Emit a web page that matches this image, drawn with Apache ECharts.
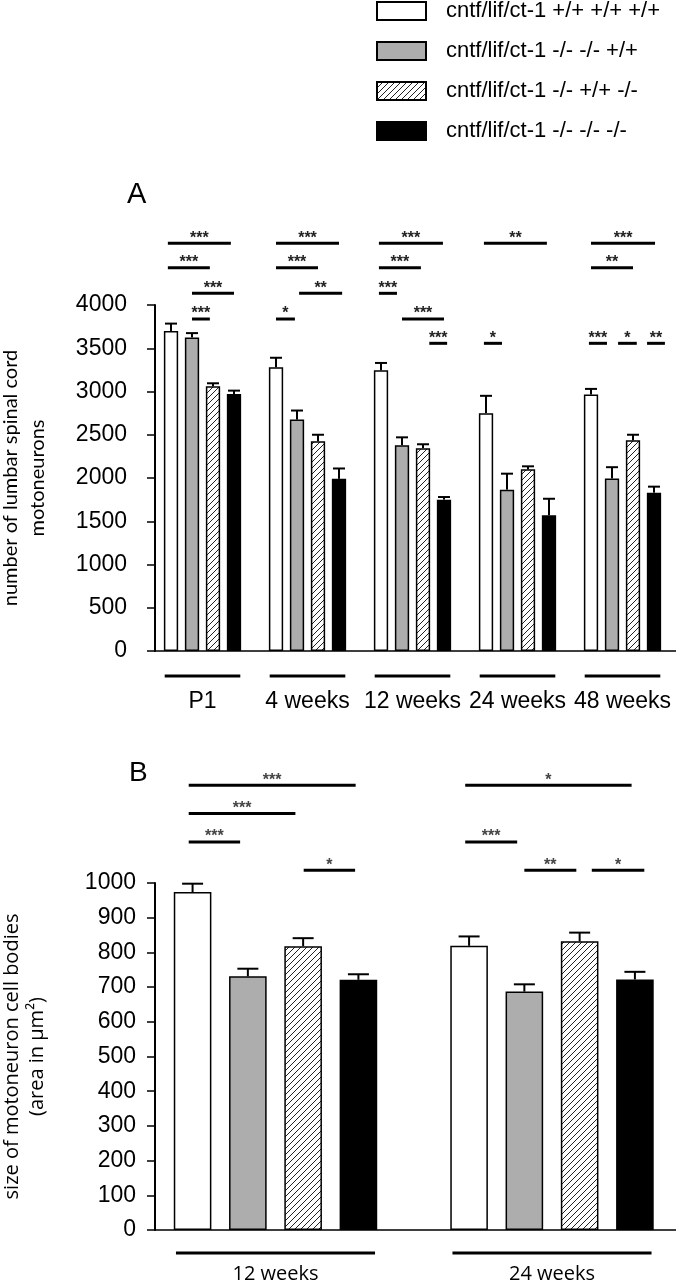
<!DOCTYPE html>
<html><head><meta charset="utf-8">
<script src="https://cdn.jsdelivr.net/npm/echarts@6/dist/echarts.min.js"></script>
<style>html,body{margin:0;padding:0;background:#fff}#c{width:676px;height:1280px}</style>
</head><body><div id="c"></div>
<script>
// ---------------- DATA ----------------
const seriesNames = ['cntf/lif/ct-1 +/+ +/+ +/+', 'cntf/lif/ct-1 -/- -/- +/+', 'cntf/lif/ct-1 -/- +/+ -/-', 'cntf/lif/ct-1 -/- -/- -/-'];

// Panel A: number of lumbar spinal cord motoneurons
const categoriesA = ['P1', '4 weeks', '12 weeks', '24 weeks', '48 weeks'];
const wtA        = [3700, 3280, 3245, 2750, 2965];
const wtErrA     = [85, 110, 85, 200, 65];
const dkoA       = [3625, 2675, 2380, 1865, 1995];
const dkoErrA    = [50, 105, 90, 185, 130];
const hatchA     = [3060, 2425, 2345, 2100, 2435];
const hatchErrA  = [35, 75, 45, 35, 65];
const tkoA       = [2970, 1990, 1750, 1570, 1830];
const tkoErrA    = [40, 120, 30, 190, 70];
const yTicksA    = [0, 500, 1000, 1500, 2000, 2500, 3000, 3500, 4000];

// Panel B: size of motoneuron cell bodies
const categoriesB = ['12 weeks', '24 weeks'];
const wtB        = [974, 819];
const wtErrB     = [24, 27];
const dkoB       = [731, 687];
const dkoErrB    = [22, 21];
const hatchB     = [818, 832];
const hatchErrB  = [23, 25];
const tkoB       = [721, 722];
const tkoErrB    = [16, 22];
const yTicksB    = [0, 100, 200, 300, 400, 500, 600, 700, 800, 900, 1000];

// significance brackets: [group, fromBar, toBar, label, row]
const sigA = [
  [0, -0.15, 2.85, '***', 0], [1, 0, 3, '***', 0], [2, -0.1, 2.95, '***', 0], [3, -0.1, 2.9, '**', 0], [4, 0, 3.05, '***', 0],
  [0, -0.15, 1.85, '***', 1], [1, 0, 2, '***', 1], [2, -0.1, 1.9, '***', 1], [4, 0, 2, '**', 1],
  [0, 1, 3, '***', 2], [1, 1.1, 3.15, '**', 2], [2, -0.1, 0.76, '***', 2],
  [0, 1, 1.85, '***', 3], [1, 0, 0.9, '*', 3], [2, 1, 3, '***', 3],
  [2, 2.3, 3.15, '***', 4], [3, -0.1, 0.76, '*', 4], [4, -0.1, 0.76, '***', 4], [4, 1.29, 2.18, '*', 4], [4, 2.67, 3.52, '**', 4]
];
const sigRowsA = [4713, 4431, 4135, 3838, 3557];
const sigB = [
  [0, -0.07, 2.95, '***', 0], [1, -0.07, 2.94, '*', 0],
  [0, -0.07, 1.86, '***', 1],
  [0, -0.07, 0.86, '***', 2], [1, -0.07, 0.87, '***', 2],
  [0, 2.01, 2.94, '*', 3], [1, 1, 1.94, '**', 3], [1, 2.22, 3.17, '*', 3]
];
const sigRowsB = [1282, 1200, 1118, 1037];

// ---------------- STYLE / LAYOUT ----------------
const BAR_W = 0.136, BAR_GAP = 0.47;
const STEP = BAR_W * (1 + BAR_GAP);
const X_MIN = [-0.4524, -0.4358];
const X_UNIT_PX = [105, 276.5];
const GRID_W = 521;
function hatchCanvas(size) {
  const c = document.createElement('canvas'); c.width = c.height = size;
  const g = c.getContext('2d');
  g.fillStyle = '#fff'; g.fillRect(0, 0, size, size);
  g.strokeStyle = '#222'; g.lineWidth = 1;
  g.beginPath();
  g.moveTo(-1, size + 1); g.lineTo(size + 1, -1);
  g.moveTo(-1, 1); g.lineTo(1, -1);
  g.moveTo(size - 1, size + 1); g.lineTo(size + 1, size - 1);
  g.stroke();
  return c;
}
const fills = ['#ffffff', '#adadad', { image: hatchCanvas(6), repeat: 'repeat' }, '#000000'];
const tickFont = '"Liberation Sans", Arial, sans-serif';

const chart = echarts.init(document.getElementById('c'), null, { renderer: 'canvas' });

function panelSeries(p, groups, vals, errs, sig, sigRows, yTicks, capPx, labelFont, labelSize, ulOff, lblOff, starColor) {
  const out = [];
  vals.forEach((v, k) => {
    out.push({
      name: seriesNames[k], type: 'bar', xAxisIndex: p, yAxisIndex: p,
      data: v.map((y, i) => [i, y]),
      barWidth: (BAR_W * 100) + '%', barGap: (BAR_GAP * 100) + '%',
      itemStyle: { color: fills[k], borderColor: '#000', borderWidth: 1.5 },
      silent: true, animation: false
    });
  });
  // vertical axis line (drawn through the scales)
  out.push({
    type: 'custom', xAxisIndex: p, yAxisIndex: p, silent: true, animation: false, clip: false, z: 10,
    data: [[X_MIN[p], yTicks[0], yTicks[yTicks.length - 1]]],
    renderItem: function (params, api) {
      const a = api.coord([api.value(0), api.value(1)]), b = api.coord([api.value(0), api.value(2)]);
      return { type: 'line', shape: { x1: a[0], y1: a[1], x2: b[0], y2: b[1] }, style: { stroke: '#000', lineWidth: 2 } };
    }
  });
  // error bars
  const errData = [];
  vals.forEach((v, k) => v.forEach((y, i) => errData.push([i + (k - 1.5) * STEP, y, errs[k][i]])));
  out.push({
    type: 'custom', xAxisIndex: p, yAxisIndex: p, data: errData, silent: true, animation: false, clip: false, z: 3,
    renderItem: function (params, api) {
      const x = api.value(0), y = api.value(1), e = api.value(2);
      const a = api.coord([x, y]), b = api.coord([x, y + e]);
      return { type: 'group', children: [
        { type: 'line', shape: { x1: a[0], y1: a[1], x2: b[0], y2: b[1] }, style: { stroke: '#000', lineWidth: 2 } },
        { type: 'line', shape: { x1: b[0] - capPx / 2, y1: b[1], x2: b[0] + capPx / 2, y2: b[1] }, style: { stroke: '#000', lineWidth: 2 } }
      ] };
    }
  });
  // significance brackets
  out.push({
    type: 'custom', xAxisIndex: p, yAxisIndex: p, silent: true, animation: false, clip: false, z: 3,
    data: sig.map(s => [s[0] + (s[1] - 1.5) * STEP, s[0] + (s[2] - 1.5) * STEP, sigRows[s[4]]]),
    renderItem: function (params, api) {
      const s = sig[params.dataIndex];
      const a = api.coord([api.value(0), api.value(2)]), b = api.coord([api.value(1), api.value(2)]);
      return { type: 'group', children: [
        { type: 'line', shape: { x1: a[0], y1: a[1], x2: b[0], y2: b[1] }, style: { stroke: '#000', lineWidth: 3 } },
        { type: 'text', style: { text: s[3], x: (a[0] + b[0]) / 2, y: a[1] + 3, align: 'center', verticalAlign: 'bottom', fontSize: 16, fontWeight: 'bold', fontFamily: tickFont, fill: starColor } }
      ] };
    }
  });
  // group underline + label
  out.push({
    type: 'custom', xAxisIndex: p, yAxisIndex: p, silent: true, animation: false, clip: false, z: 3,
    data: groups.map((g, i) => [i, 0]),
    renderItem: function (params, api) {
      const i = api.value(0);
      const a = api.coord([i - 0.36, 0]), b = api.coord([i + 0.36, 0]), c = api.coord([i, 0]);
      return { type: 'group', children: [
        { type: 'line', shape: { x1: a[0], y1: a[1] + ulOff, x2: b[0], y2: b[1] + ulOff }, style: { stroke: '#000', lineWidth: 3 } },
        { type: 'text', style: { text: groups[params.dataIndex], x: c[0], y: c[1] + lblOff, align: 'center', verticalAlign: 'middle', fontSize: labelSize, fontFamily: labelFont, fill: '#000' } }
      ] };
    }
  });
  return out;
}

const xAxisBase = {
  type: 'value', axisTick: { show: false }, axisLabel: { show: false }, splitLine: { show: false },
  axisLine: { show: true, onZero: false, lineStyle: { color: '#000', width: 1.5 } }
};
const yAxisBase = {
  type: 'value', splitLine: { show: false },
  axisLine: { show: true, onZero: false, lineStyle: { color: '#000', width: 2 } },
  axisTick: { show: true, length: 8, lineStyle: { color: '#000', width: 1.5 } },
  nameLocation: 'middle', nameRotate: 90
};
const plain = v => String(v);

const option = {
  backgroundColor: '#fff',
  animation: false,
  title: [
    { text: 'A', left: 127, top: 180, padding: 0, textStyle: { fontSize: 29, fontWeight: 'normal', fontFamily: tickFont, color: '#000' } },
    { text: 'B', left: 129, top: 759, padding: 0, textStyle: { fontSize: 28, fontWeight: 'normal', fontFamily: tickFont, color: '#000' } }
  ],
  legend: {
    orient: 'vertical', left: 376, top: 0, padding: 0,
    itemWidth: 49, itemHeight: 18, itemGap: 18, icon: 'rect', selectedMode: false,
    data: seriesNames,
    textStyle: { fontSize: 22, fontFamily: tickFont, color: '#000', lineHeight: 18, padding: [0, 0, 0, 15] }
  },
  grid: [
    { left: 155, top: 305, width: GRID_W, height: 346, containLabel: false, outerBoundsMode: 'none' },
    { left: 155, top: 883, width: GRID_W, height: 347, containLabel: false, outerBoundsMode: 'none' }
  ],
  xAxis: [
    Object.assign({ gridIndex: 0, min: X_MIN[0], max: X_MIN[0] + GRID_W / X_UNIT_PX[0] }, xAxisBase),
    Object.assign({ gridIndex: 1, min: X_MIN[1], max: X_MIN[1] + GRID_W / X_UNIT_PX[1] }, xAxisBase)
  ],
  yAxis: [
    Object.assign({}, yAxisBase, {
      gridIndex: 0, min: yTicksA[0], max: yTicksA[yTicksA.length - 1], interval: yTicksA[1] - yTicksA[0],
      axisLabel: { margin: 28, fontSize: 23, fontFamily: tickFont, color: '#000', formatter: plain },
      name: 'number of lumbar spinal cord\nmotoneurons', nameGap: 104,
      nameTextStyle: { fontSize: 20, fontFamily: 'Lato, "Open Sans", sans-serif', color: '#000', lineHeight: 27 }
    }),
    Object.assign({}, yAxisBase, {
      gridIndex: 1, min: yTicksB[0], max: yTicksB[yTicksB.length - 1], interval: yTicksB[1] - yTicksB[0],
      axisLabel: { margin: 19, fontSize: 23, fontFamily: tickFont, color: '#000', formatter: plain },
      name: 'size of motoneuron cell bodies\n(area in µm²)', nameGap: 105,
      nameTextStyle: { fontSize: 20, fontFamily: '"Open Sans", sans-serif', color: '#000', lineHeight: 25 }
    })
  ],
  series: [].concat(
    panelSeries(0, categoriesA, [wtA, dkoA, hatchA, tkoA], [wtErrA, dkoErrA, hatchErrA, tkoErrA], sigA, sigRowsA, yTicksA, 12, tickFont, 23, 25, 51, '#222'),
    panelSeries(1, categoriesB, [wtB, dkoB, hatchB, tkoB], [wtErrB, dkoErrB, hatchErrB, tkoErrB], sigB, sigRowsB, yTicksB, 21, '"Open Sans", sans-serif', 20, 23, 44, '#444')
  )
};
chart.setOption(option);
</script>
</body></html>
